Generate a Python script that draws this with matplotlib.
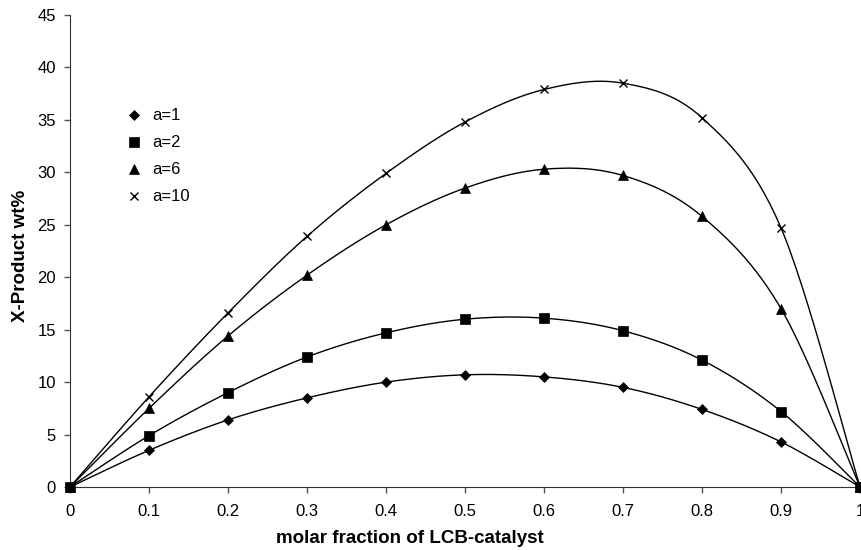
import numpy as np
import matplotlib
matplotlib.use('Agg')
from matplotlib import pyplot as plt

plt.rcParams['font.family'] = ['Liberation Sans', 'DejaVu Sans']

x = [0, 0.1, 0.2, 0.3, 0.4, 0.5, 0.6, 0.7, 0.8, 0.9, 1.0]
a1 = [0, 3.5, 6.4, 8.5, 10.0, 10.7, 10.5, 9.5, 7.4, 4.3, 0]
a2 = [0, 4.9, 9.0, 12.4, 14.7, 16.0, 16.1, 14.9, 12.1, 7.2, 0]
a6 = [0, 7.5, 14.4, 20.2, 25.0, 28.5, 30.3, 29.7, 25.8, 17.0, 0]
a10 = [0, 8.6, 16.6, 23.9, 29.9, 34.8, 37.9, 38.5, 35.2, 24.7, 0]

labels = ['a=1', 'a=2', 'a=6', 'a=10']
markers = ['D', 's', '^', 'x']
msizes = [5.5, 7, 7, 6]


def smooth(xs, ys, n=30):
    # excel-like smoothing: catmull-rom through the points
    xs = np.asarray(xs, float)
    ys = np.asarray(ys, float)
    px = np.concatenate([[xs[0]], xs, [xs[-1]]])
    py = np.concatenate([[ys[0]], ys, [ys[-1]]])
    outx, outy = [], []
    t = np.linspace(0, 1, n)
    for i in range(1, len(px) - 2):
        p0, p1, p2, p3 = px[i - 1], px[i], px[i + 1], px[i + 2]
        q0, q1, q2, q3 = py[i - 1], py[i], py[i + 1], py[i + 2]
        c1x, c1y = p1 + (p2 - p0) / 6, q1 + (q2 - q0) / 6
        c2x, c2y = p2 - (p3 - p1) / 6, q2 - (q3 - q1) / 6
        bx = (1 - t)**3 * p1 + 3 * (1 - t)**2 * t * c1x + 3 * (1 - t) * t**2 * c2x + t**3 * p2
        by = (1 - t)**3 * q1 + 3 * (1 - t)**2 * t * c1y + 3 * (1 - t) * t**2 * c2y + t**3 * q2
        outx.extend(bx)
        outy.extend(by)
    return outx, outy


fig = plt.figure(figsize=(8.61, 5.5), dpi=100)
ax = fig.add_axes([0.0813, 0.1145, 0.9176, 0.8582])

handles = []
for ys, lab, m, ms in zip([a1, a2, a6, a10], labels, markers, msizes):
    sx, sy = smooth(x, ys)
    ax.plot(sx, sy, color='black', lw=1.0, clip_on=False)
    h, = ax.plot(x, ys, linestyle='none', marker=m, color='black', ms=ms,
                 mew=1.0 if m == 'x' else 0.5, label=lab, clip_on=False, zorder=3)
    handles.append(h)

ax.set_xlim(0, 1)
ax.set_ylim(0, 45)
ax.set_xticks([0, 0.1, 0.2, 0.3, 0.4, 0.5, 0.6, 0.7, 0.8, 0.9, 1])
ax.set_xticklabels(['0', '0.1', '0.2', '0.3', '0.4', '0.5', '0.6', '0.7', '0.8', '0.9', '1'])
ax.set_yticks(range(0, 46, 5))
ax.tick_params(direction='out', length=4, width=1, color='#555555', labelsize=12)
ax.tick_params(axis='x', pad=8)
ax.tick_params(axis='y', pad=6)
ax.spines['top'].set_visible(False)
ax.spines['right'].set_visible(False)
ax.spines['left'].set_color('#333333')
ax.spines['bottom'].set_color('#333333')

ax.set_xlabel('molar fraction of LCB-catalyst', fontsize=13.5, fontweight='bold', va='center')
ax.xaxis.set_label_coords(0.43, -0.108)
ax.set_ylabel('X-Product wt%', fontsize=13.5, fontweight='bold', va='center')
ax.yaxis.set_label_coords(-0.063, 0.49)

leg = fig.legend(handles=handles, loc='upper left', bbox_to_anchor=(0.138, 0.815),
                 frameon=False, fontsize=12, handlelength=1.0, handletextpad=0.6,
                 labelspacing=0.72, borderaxespad=0)

fig.savefig('out.png', dpi=100)
